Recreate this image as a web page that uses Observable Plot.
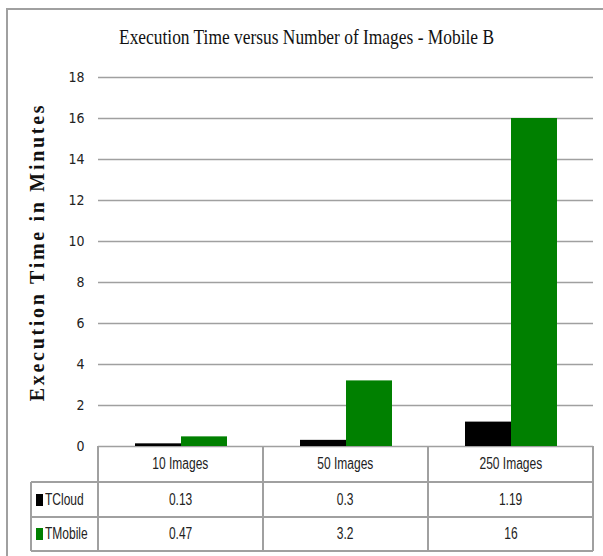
<!DOCTYPE html>
<html>
<head>
<meta charset="utf-8">
<script src="https://cdn.jsdelivr.net/npm/d3@7"></script>
<script src="https://cdn.jsdelivr.net/npm/@observablehq/plot@0.6"></script>
<style>
  body { margin: 0; background: #fff; }
  #wrap { position: relative; width: 603px; height: 556px; overflow: hidden; background: #fff; }
  #frame { position: absolute; left: 6px; top: 8px; width: 800px; height: 800px;
           border-left: 2px solid #a0a0a0; border-top: 2px solid #a0a0a0; }
  #title { position: absolute; top: 27px; left: 119px; white-space: nowrap; line-height: 21px;
           font-family: "Liberation Serif", "Times New Roman", serif; font-size: 21px; color: #111;
           transform-origin: 0 0; }
  #ylabel { position: absolute; left: 36.6px; top: 251.5px; white-space: nowrap; line-height: 20px;
            font-family: "Liberation Serif", "Times New Roman", serif; font-weight: bold;
            font-size: 20px; letter-spacing: 2.7px; color: #111;
            transform: translate(-50%, -50%) rotate(-90deg); }
  #chart { position: absolute; left: 0; top: 0; }
  .cell { position: absolute; box-sizing: border-box; display: flex; align-items: center;
          justify-content: center; white-space: nowrap; overflow: visible;
          font-family: "Liberation Sans", Arial, sans-serif;
          font-size: 16px; color: #222; }
  .cell .t { display: inline-block; flex-shrink: 0; transform: scaleX(0.75); }
  .cell.left { justify-content: flex-start; padding-left: 5px; }
  .cell.left .t { transform-origin: 0 50%; }
  .sw { display: inline-block; flex-shrink: 0; width: 7px; height: 12px; margin-right: 2px; }
  .ln { position: absolute; background: #a0a0a0; }
</style>
</head>
<body>
<div id="wrap">
  <div id="frame"></div>
  <div id="chart"></div>
  <div id="title">Execution Time versus Number of Images - Mobile B</div>
  <div id="ylabel">Execution Time in Minutes</div>
</div>
<script>
// ---- data ----
const categories = ["10 Images", "50 Images", "250 Images"];
const seriesNames = ["TCloud", "TMobile"];
const tCloud = [0.13, 0.3, 1.19];
const tMobile = [0.47, 3.2, 16];
const tCloudLabels = ["0.13", "0.3", "1.19"];
const tMobileLabels = ["0.47", "3.2", "16"];
const yTicks = [0, 2, 4, 6, 8, 10, 12, 14, 16, 18];
const seriesColors = ["#000000", "#008000"];

const rows = categories.flatMap((c, i) => [
  { category: c, series: seriesNames[0], value: tCloud[i] },
  { category: c, series: seriesNames[1], value: tMobile[i] }
]);

const gridColor = "#a0a0a0";

const chart = Plot.plot({
  width: 603,
  height: 447,
  marginLeft: 97,
  marginRight: 9,
  marginTop: 77,
  marginBottom: 1,
  style: {
    fontFamily: '"Liberation Sans Narrow", "DejaVu Sans Condensed", sans-serif',
    fontSize: "14px",
    color: "#222",
    background: "transparent",
    overflow: "visible"
  },
  fx: { domain: categories, padding: 0, axis: null },
  x: { domain: seriesNames, paddingInner: 0, paddingOuter: 0.763, axis: null },
  y: { domain: [0, 18] },
  color: { domain: seriesNames, range: seriesColors },
  marks: [
    Plot.ruleY(yTicks, { stroke: gridColor, strokeWidth: 1.5 }),
    Plot.barY(rows, { fx: "category", x: "series", y: "value", fill: "series" }),
    Plot.axisY(yTicks, { tickSize: 0, tickPadding: 14, line: true, stroke: gridColor, strokeWidth: 1.5,
                         fill: "#222", label: null })
  ]
});
document.getElementById("chart").appendChild(chart);

// fit title width
const title = document.getElementById("title");
const tw = title.getBoundingClientRect().width;
title.style.transform = `scaleX(${375 / tw})`;

// ---- data table below, aligned to Plot's scales ----
const wrap = document.getElementById("wrap");
const fxs = chart.scale("fx");
const ys = chart.scale("y");
const step = fxs.step;
const colX = categories.map(c => fxs.apply(c));
const x0 = colX[0];
const xEnd = colX[colX.length - 1] + step;
const tableLeft = 31;
const y0 = ys.apply(0);
const rowEdges = [y0, y0 + 36, y0 + 71, y0 + 105];

function line(x, y, w, h) {
  const d = document.createElement("div");
  d.className = "ln";
  d.style.left = x + "px"; d.style.top = y + "px";
  d.style.width = w + "px"; d.style.height = h + "px";
  wrap.appendChild(d);
}
function cell(x, y, w, h, html, cls) {
  const d = document.createElement("div");
  d.className = "cell" + (cls ? " " + cls : "");
  d.style.left = x + "px"; d.style.top = y + "px";
  d.style.width = w + "px"; d.style.height = h + "px";
  d.innerHTML = html;
  wrap.appendChild(d);
}

// header
categories.forEach((c, i) => cell(colX[i], rowEdges[0], step, rowEdges[1] - rowEdges[0], `<span class="t">${c}</span>`));
// series rows
const tableRows = [
  { name: seriesNames[0], color: seriesColors[0], labels: tCloudLabels },
  { name: seriesNames[1], color: seriesColors[1], labels: tMobileLabels }
];
tableRows.forEach((r, k) => {
  const top = rowEdges[k + 1], h = rowEdges[k + 2] - rowEdges[k + 1];
  cell(tableLeft, top, x0 - tableLeft, h,
       `<span class="sw" style="background:${r.color}"></span><span class="t">${r.name}</span>`, "left");
  r.labels.forEach((v, i) => cell(colX[i], top, step, h, `<span class="t">${v}</span>`));
});

// borders
const lw = 1.5;
[rowEdges[1], rowEdges[2], rowEdges[3]].forEach(y => line(tableLeft, y - lw / 2, xEnd - tableLeft, lw));
line(x0 - lw / 2, rowEdges[0], lw, rowEdges[3] - rowEdges[0]);
line(tableLeft - lw / 2, rowEdges[1], lw, rowEdges[3] - rowEdges[1]);
colX.slice(1).forEach(x => line(x - lw / 2, rowEdges[0], lw, rowEdges[3] - rowEdges[0]));
line(xEnd - lw / 2, rowEdges[0], lw, rowEdges[3] - rowEdges[0]);
</script>
</body>
</html>
